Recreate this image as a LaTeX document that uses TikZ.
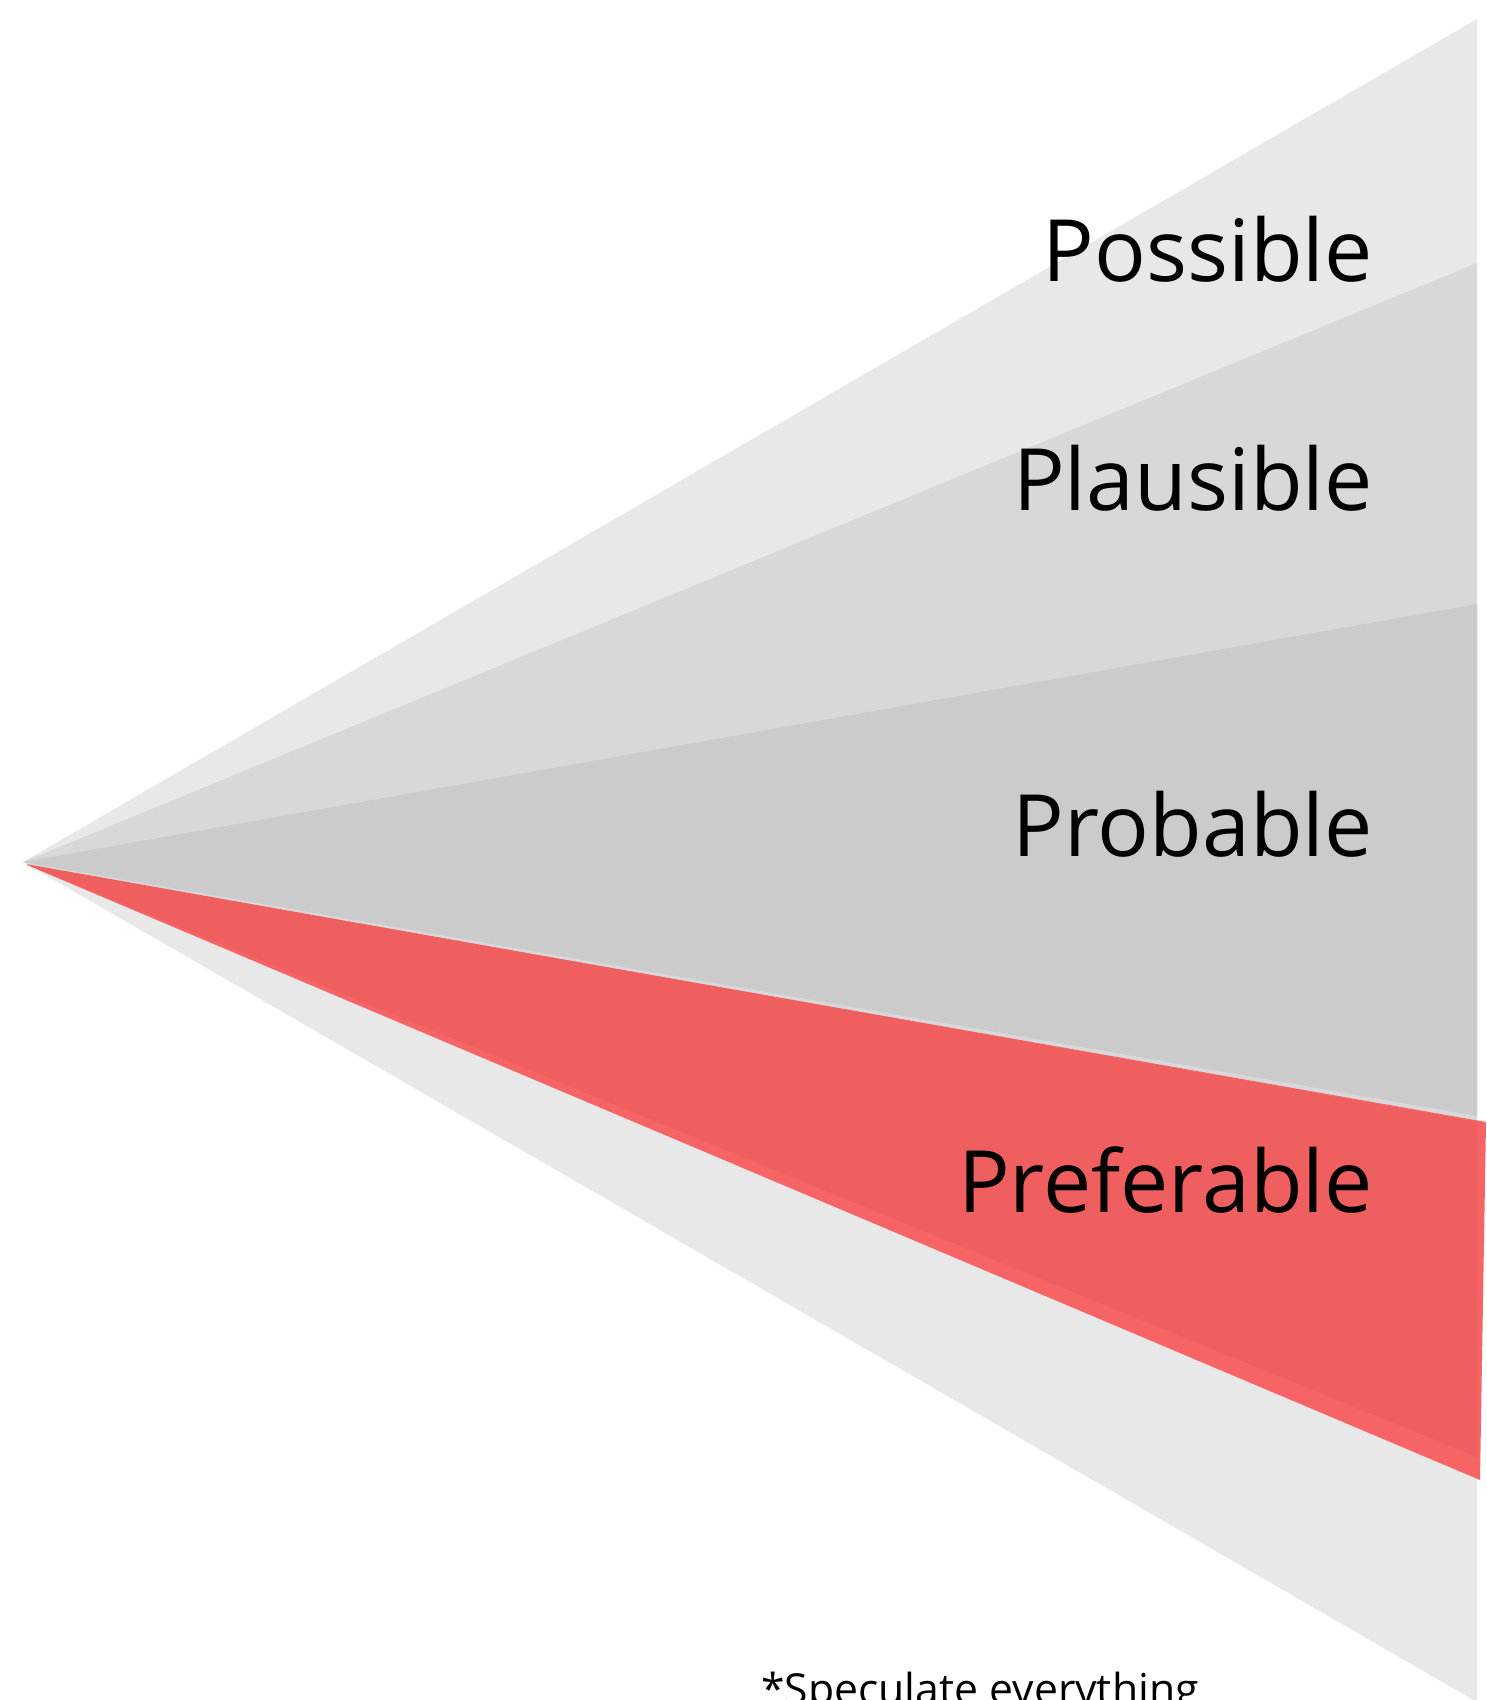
\documentclass[tikz,border=0pt]{standalone}
\usepackage{fontspec}
\setmainfont{Open Sans}
\definecolor{greyA}{HTML}{E8E8E8}
\definecolor{greyB}{HTML}{D8D8D8}
\definecolor{greyC}{HTML}{CBCBCB}
\definecolor{redA}{HTML}{F66466}
\definecolor{redB}{HTML}{EF5F5F}
\tikzset{
  biglabel/.style={anchor=base east, inner sep=0pt, text=black, font=\fontsize{86}{100}\selectfont},
  note/.style={anchor=base west, inner sep=0pt, text=black, font=\fontsize{42.7}{50}\selectfont}
}
\begin{document}
\begin{tikzpicture}[x=1pt,y=-1pt]
\useasboundingbox[fill=white] (0,0) rectangle (1487,1700);
\coordinate (apex) at (23,862);
% outer: possible
\fill[greyA] (apex) -- (1477,19) -- (1477,1702) -- cycle;
% plausible
\fill[greyB] (apex) -- (1477,263) -- (1477,1455) -- cycle;
% probable
\fill[greyC] (apex) -- (1477,604) -- (1477,1116) -- cycle;
% preferable
\fill[redA] (27,865) -- (1486,1122) -- (1480,1480) -- cycle;
\fill[redB] (26,864) -- (1477,1122) -- (1477,1457) -- cycle;
% labels
\node[biglabel] (possible) at (1373,281) {Possible};
\node[biglabel] (plausible) at (1373,510) {Plausible};
\node[biglabel] (probable) at (1373,856) {Probable};
\node[biglabel] (preferable) at (1373,1212) {Preferable};
\node[note] (spec) at (761,1704) {*Speculate everything};
\end{tikzpicture}
\end{document}
